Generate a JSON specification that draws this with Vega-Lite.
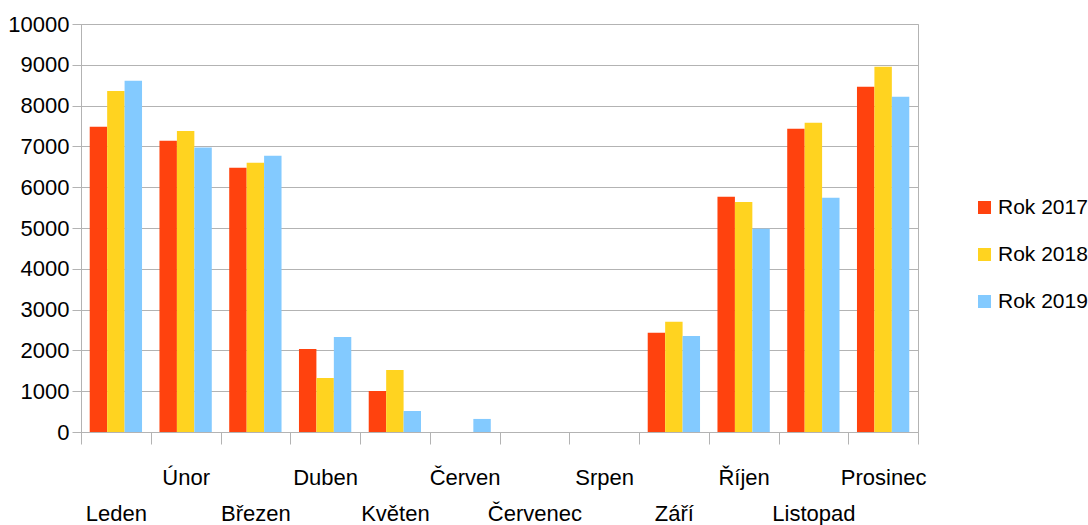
{
  "$schema": "https://vega.github.io/schema/vega-lite/v6.json",
  "width": 837,
  "height": 408,
  "autosize": {"type": "none"},
  "padding": {"left": 81, "top": 24, "right": 170, "bottom": 93},
  "background": "white",
  "config": {
    "view": {"stroke": "#b3b3b3", "strokeWidth": 1},
    "font": "Liberation Sans"
  },
  "data": {
    "values": [
      {"month": "Leden", "series": "Rok 2017", "value": 7480},
      {"month": "Leden", "series": "Rok 2018", "value": 8360},
      {"month": "Leden", "series": "Rok 2019", "value": 8610},
      {"month": "Únor", "series": "Rok 2017", "value": 7140},
      {"month": "Únor", "series": "Rok 2018", "value": 7375},
      {"month": "Únor", "series": "Rok 2019", "value": 6970},
      {"month": "Březen", "series": "Rok 2017", "value": 6475},
      {"month": "Březen", "series": "Rok 2018", "value": 6600},
      {"month": "Březen", "series": "Rok 2019", "value": 6770},
      {"month": "Duben", "series": "Rok 2017", "value": 2035},
      {"month": "Duben", "series": "Rok 2018", "value": 1325},
      {"month": "Duben", "series": "Rok 2019", "value": 2330},
      {"month": "Květen", "series": "Rok 2017", "value": 1005},
      {"month": "Květen", "series": "Rok 2018", "value": 1520},
      {"month": "Květen", "series": "Rok 2019", "value": 515},
      {"month": "Červen", "series": "Rok 2017", "value": 0},
      {"month": "Červen", "series": "Rok 2018", "value": 0},
      {"month": "Červen", "series": "Rok 2019", "value": 320},
      {"month": "Červenec", "series": "Rok 2017", "value": 0},
      {"month": "Červenec", "series": "Rok 2018", "value": 0},
      {"month": "Červenec", "series": "Rok 2019", "value": 0},
      {"month": "Srpen", "series": "Rok 2017", "value": 0},
      {"month": "Srpen", "series": "Rok 2018", "value": 0},
      {"month": "Srpen", "series": "Rok 2019", "value": 0},
      {"month": "Září", "series": "Rok 2017", "value": 2430},
      {"month": "Září", "series": "Rok 2018", "value": 2700},
      {"month": "Září", "series": "Rok 2019", "value": 2355},
      {"month": "Říjen", "series": "Rok 2017", "value": 5765},
      {"month": "Říjen", "series": "Rok 2018", "value": 5640},
      {"month": "Říjen", "series": "Rok 2019", "value": 4980},
      {"month": "Listopad", "series": "Rok 2017", "value": 7430},
      {"month": "Listopad", "series": "Rok 2018", "value": 7580},
      {"month": "Listopad", "series": "Rok 2019", "value": 5740},
      {"month": "Prosinec", "series": "Rok 2017", "value": 8460},
      {"month": "Prosinec", "series": "Rok 2018", "value": 8955},
      {"month": "Prosinec", "series": "Rok 2019", "value": 8215}
    ]
  },
  "mark": {"type": "bar"},
  "encoding": {
    "x": {
      "field": "month",
      "type": "nominal",
      "sort": ["Leden", "Únor", "Březen", "Duben", "Květen", "Červen", "Červenec", "Srpen", "Září", "Říjen", "Listopad", "Prosinec"],
      "scale": {"paddingInner": 0, "paddingOuter": 0},
      "axis": {
        "title": null,
        "labelAngle": 0,
        "labelFontSize": 22,
        "labelColor": "#000000",
        "labelBaseline": "alphabetic",
        "labelOverlap": false,
        "labelBound": false,
        "labelFlush": false,
        "labelPadding": {
          "condition": {"test": "indexof(['Leden','Březen','Květen','Červenec','Září','Listopad'], datum.value) >= 0", "value": 76},
          "value": 40
        },
        "tickBand": "extent",
        "tickSize": 12,
        "tickColor": "#b3b3b3",
        "domainColor": "#b3b3b3",
        "grid": false
      }
    },
    "xOffset": {
      "field": "series",
      "type": "nominal",
      "sort": ["Rok 2017", "Rok 2018", "Rok 2019"],
      "scale": {"paddingInner": 0, "paddingOuter": 0.5}
    },
    "y": {
      "field": "value",
      "type": "quantitative",
      "scale": {"domain": [0, 10000], "nice": false},
      "axis": {
        "title": null,
        "format": "d",
        "values": [0, 1000, 2000, 3000, 4000, 5000, 6000, 7000, 8000, 9000, 10000],
        "labelFontSize": 22,
        "labelColor": "#000000",
        "labelPadding": 3,
        "tickSize": 9,
        "tickColor": "#b3b3b3",
        "domainColor": "#b3b3b3",
        "gridColor": "#b3b3b3",
        "grid": true
      }
    },
    "color": {
      "field": "series",
      "type": "nominal",
      "scale": {"domain": ["Rok 2017", "Rok 2018", "Rok 2019"], "range": ["#ff420e", "#ffd320", "#83caff"]},
      "legend": {
        "title": null,
        "orient": "none",
        "legendX": 893,
        "legendY": 173,
        "padding": 0,
        "symbolType": "square",
        "symbolSize": 169,
        "symbolStrokeWidth": 0,
        "labelFontSize": 21,
        "labelLimit": 200,
        "labelColor": "#000000",
        "labelOffset": 3,
        "rowPadding": 25
      }
    }
  }
}
